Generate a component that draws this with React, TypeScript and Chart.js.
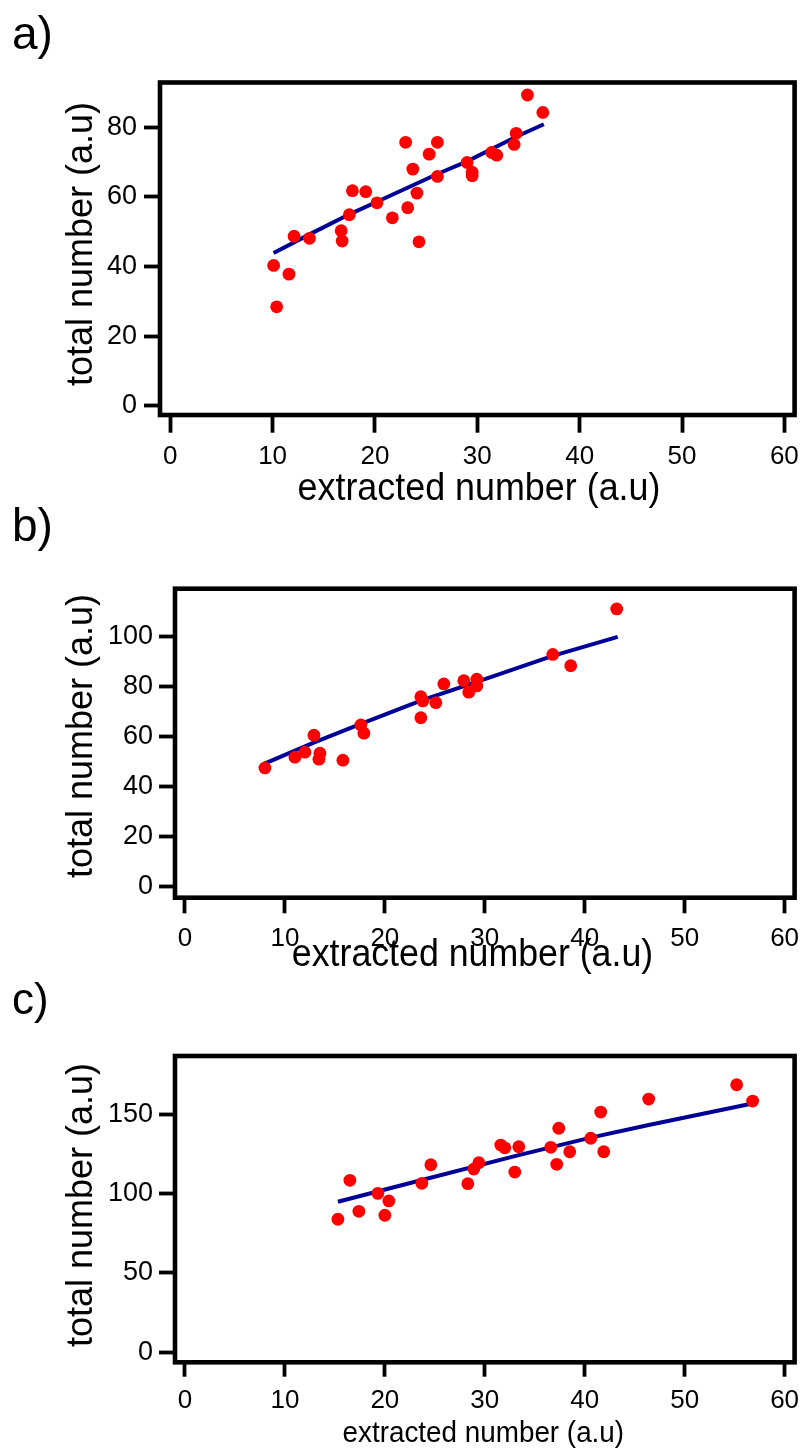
import React, { useEffect, useRef } from "react";
import { Chart, registerables } from "chart.js";

Chart.register(...registerables);

const FONT = '"Liberation Sans", Arial, Helvetica, sans-serif';

// ---------- text ----------
const panelLabels = ["a)", "b)", "c)"];
const xTitle = "extracted number (a.u)";
const yTitle = "total number (a.u)";

// ---------- tick values ----------
const xTickValues = [0, 10, 20, 30, 40, 50, 60];
const aYTickValues = [0, 20, 40, 60, 80];
const bYTickValues = [0, 20, 40, 60, 80, 100];
const cYTickValues = [0, 50, 100, 150];

// ---------- panel a ----------
const aX = [34.9, 36.4, 33.8, 33.6, 23.0, 26.1, 25.3, 31.4, 31.9, 23.7, 29.0, 29.5, 29.5, 26.1, 17.8, 19.1, 24.1, 20.2, 23.2, 17.5, 21.7, 16.7, 16.8, 24.3, 12.1, 13.6, 10.1, 11.6, 10.4];
const aY = [89.3, 84.3, 78.3, 75.1, 75.7, 75.7, 72.3, 72.8, 72.0, 68.0, 69.9, 67.1, 66.1, 65.9, 61.8, 61.5, 61.1, 58.3, 56.9, 54.9, 54.0, 50.3, 47.3, 47.1, 48.7, 48.1, 40.3, 37.8, 28.4];
const aFitX = [10.1, 13.65, 17.5, 20.2, 26.1, 29.05, 33.8, 36.5];
const aFitY = [43.9, 49.3, 55.0, 58.6, 66.6, 70.3, 77.3, 80.9];

// ---------- panel b ----------
const bX = [43.2, 36.8, 38.6, 25.9, 27.9, 29.2, 29.2, 28.4, 23.6, 23.8, 25.1, 23.6, 17.6, 17.9, 12.9, 12.0, 11.0, 13.5, 13.4, 15.8, 8.0];
const bY = [111.1, 92.9, 88.4, 81.1, 82.4, 83.0, 80.3, 77.8, 76.0, 74.3, 73.6, 67.6, 64.7, 61.4, 60.6, 53.8, 51.8, 53.4, 51.0, 50.6, 47.5];
const bFitX = [7.9, 13.0, 17.6, 23.6, 29.2, 36.8, 43.3];
const bFitY = [49.1, 57.8, 65.1, 74.4, 81.9, 92.3, 99.9];

// ---------- panel c ----------
const cX = [55.2, 56.8, 46.4, 41.6, 37.4, 40.6, 36.6, 38.5, 41.9, 37.2, 31.6, 32.0, 33.4, 33.0, 29.4, 28.9, 28.3, 24.6, 23.7, 16.5, 19.3, 20.4, 17.4, 20.0, 15.3];
const cY = [168.5, 158.2, 159.5, 151.3, 141.1, 134.8, 129.1, 126.3, 126.3, 118.4, 130.5, 128.8, 129.5, 113.5, 119.4, 115.4, 106.2, 118.1, 106.4, 108.3, 100.1, 95.3, 88.8, 86.3, 83.8];
const cFitX = [15.3, 23.7, 33.4, 40.6, 46.4, 56.9];
const cFitY = [94.8, 108.5, 124.2, 135.2, 143.1, 156.8];

const W = 801;
const H = 1454;
const XSCALE_H = 60;

type TextItem = { text: string; x: number; y: number; size: number; sx: number; rot: boolean; align: CanvasTextAlign };

type Panel = {
  px: number[]; py: number[]; fx: number[]; fy: number[];
  yTicks: number[];
  xMin: number; xMax: number; yMin: number; yMax: number;
  left: number; top: number; right: number; bottom: number;
  xTickLen: number; yTickLen: number; xPad: number; yPad: number;
  texts: TextItem[];
};

const PANELS: Panel[] = [
  {
    px: aX, py: aY, fx: aFitX, fy: aFitY, yTicks: aYTickValues,
    xMin: -1, xMax: 61, yMin: -2.7, yMax: 92.9,
    left: 160, top: 82.5, right: 797, bottom: 415,
    xTickLen: 17.7, yTickLen: 16, xPad: 9, yPad: 7,
    texts: [
      { text: panelLabels[0], x: 12, y: 49, size: 46, sx: 1, rot: false, align: "left" },
      { text: xTitle, x: 479, y: 500, size: 39, sx: 0.92, rot: false, align: "center" },
      { text: yTitle, x: 92, y: 244, size: 36, sx: 1, rot: true, align: "center" },
    ],
  },
  {
    px: bX, py: bY, fx: bFitX, fy: bFitY, yTicks: bYTickValues,
    xMin: -1, xMax: 61, yMin: -4.4, yMax: 119.2,
    left: 175, top: 588.7, right: 797, bottom: 897.7,
    xTickLen: 15.6, yTickLen: 16, xPad: 9.5, yPad: 6,
    texts: [
      { text: panelLabels[1], x: 12, y: 541, size: 46, sx: 1, rot: false, align: "left" },
      { text: xTitle, x: 472.5, y: 966, size: 38, sx: 0.94, rot: false, align: "center" },
      { text: yTitle, x: 92, y: 736, size: 36, sx: 1, rot: true, align: "center" },
    ],
  },
  {
    px: cX, py: cY, fx: cFitX, fy: cFitY, yTicks: cYTickValues,
    xMin: -1, xMax: 61, yMin: -6.3, yMax: 186.6,
    left: 175, top: 1056, right: 797, bottom: 1362.3,
    xTickLen: 14.4, yTickLen: 16, xPad: 9, yPad: 6,
    texts: [
      { text: panelLabels[2], x: 12, y: 1014, size: 44, sx: 1, rot: false, align: "left" },
      { text: xTitle, x: 483.3, y: 1442, size: 29, sx: 0.96, rot: false, align: "center" },
      { text: yTitle, x: 92, y: 1205, size: 36, sx: 1, rot: true, align: "center" },
    ],
  },
];

function makeFramePlugin(texts: TextItem[]) {
  return {
    id: "frameAndText",
    afterDraw(chart: any) {
      const { ctx, chartArea } = chart;
      const { left, top, right, bottom } = chartArea;
      ctx.save();
      ctx.strokeStyle = "#000";
      ctx.lineWidth = 4.6;
      ctx.lineJoin = "miter";
      ctx.strokeRect(left, top, right - left, bottom - top);
      ctx.restore();
      for (const t of texts) {
        ctx.save();
        ctx.translate(t.x, t.y);
        if (t.rot) ctx.rotate(-Math.PI / 2);
        ctx.scale(t.sx, 1);
        ctx.font = `${t.size}px ${FONT}`;
        ctx.fillStyle = "#000";
        ctx.textAlign = t.align;
        ctx.textBaseline = "alphabetic";
        ctx.fillText(t.text, 0, 0);
        ctx.restore();
      }
    },
  };
}

function PanelChart({ p }: { p: Panel }) {
  const ref = useRef<HTMLCanvasElement | null>(null);
  useEffect(() => {
    if (!ref.current) return;
    const chart = new Chart(ref.current, {
      type: "scatter",
      data: {
        datasets: [
          {
            data: p.px.map((x, i) => ({ x, y: p.py[i] })),
            backgroundColor: "#ff0000",
            borderColor: "#ff0000",
            borderWidth: 0,
            pointRadius: 6.4,
            pointHoverRadius: 6.4,
          },
          {
            data: p.fx.map((x, i) => ({ x, y: p.fy[i] })),
            showLine: true,
            borderColor: "#000096",
            backgroundColor: "#000096",
            borderWidth: 4,
            pointRadius: 0,
            pointHoverRadius: 0,
            tension: 0,
            fill: false,
          } as any,
        ],
      },
      options: {
        animation: false,
        responsive: false,
        devicePixelRatio: 1,
        events: [],
        layout: {
          padding: { left: 0, top: p.top, right: W - p.right, bottom: H - p.bottom - XSCALE_H },
        },
        plugins: { legend: { display: false }, tooltip: { enabled: false } },
        scales: {
          x: {
            type: "linear",
            min: p.xMin,
            max: p.xMax,
            afterBuildTicks: (s: any) => {
              s.ticks = xTickValues.map((v) => ({ value: v }));
            },
            afterFit: (s: any) => {
              s.height = XSCALE_H;
              s.paddingLeft = 0;
              s.paddingRight = 0;
            },
            grid: { drawOnChartArea: false, drawTicks: true, tickLength: p.xTickLen, tickWidth: 3.8, tickColor: "#000" },
            border: { display: false },
            ticks: { color: "#000", font: { family: FONT, size: 26 }, padding: p.xPad, maxRotation: 0, minRotation: 0, autoSkip: false },
          },
          y: {
            type: "linear",
            min: p.yMin,
            max: p.yMax,
            afterBuildTicks: (s: any) => {
              s.ticks = p.yTicks.map((v) => ({ value: v }));
            },
            afterFit: (s: any) => {
              s.width = p.left;
              s.paddingTop = 0;
              s.paddingBottom = 0;
            },
            grid: { drawOnChartArea: false, drawTicks: true, tickLength: p.yTickLen, tickWidth: 3.8, tickColor: "#000" },
            border: { display: false },
            ticks: { color: "#000", font: { family: FONT, size: 27 }, padding: p.yPad, autoSkip: false },
          },
        },
      } as any,
      plugins: [makeFramePlugin(p.texts) as any],
    });
    return () => chart.destroy();
  }, [p]);
  return (
    <canvas
      ref={ref}
      width={W}
      height={H}
      style={{ position: "absolute", left: 0, top: 0, width: W, height: H }}
    />
  );
}

export default function App() {
  return (
    <div style={{ position: "absolute", left: 0, top: 0, width: W, height: H, background: "#fff", overflow: "hidden" }}>
      {PANELS.map((p, i) => (
        <PanelChart key={i} p={p} />
      ))}
    </div>
  );
}
